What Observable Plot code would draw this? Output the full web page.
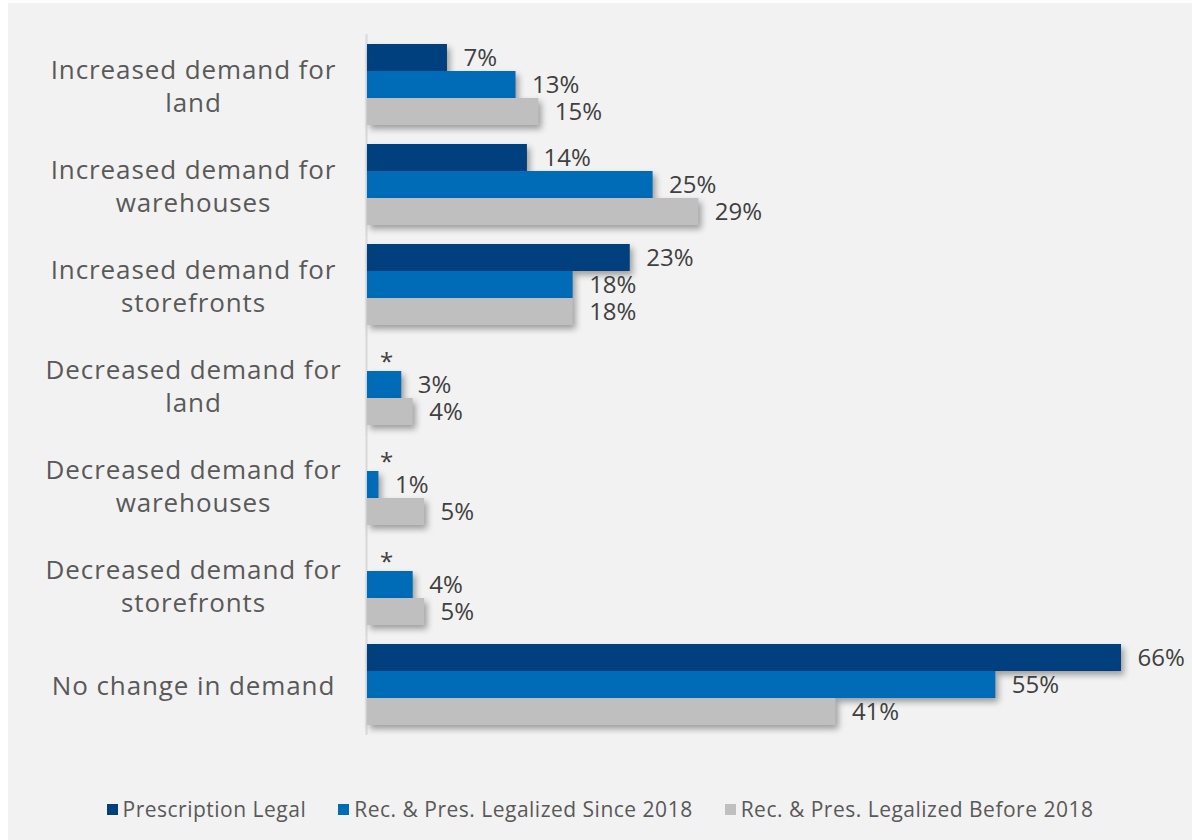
<!DOCTYPE html>
<html>
<head>
<meta charset="utf-8">
<script src="https://cdn.jsdelivr.net/npm/d3@7"></script>
<script src="https://cdn.jsdelivr.net/npm/@observablehq/plot@0.6"></script>
<style>
  html, body { margin: 0; padding: 0; background: #ffffff; }
  #panel { position: absolute; left: 8px; top: 3px; width: 1184px; height: 837px; background: #f2f2f2; font-family: "Open Sans", sans-serif; }
  #legend { display: flex; justify-content: center; gap: 32px; font-size: 21px; letter-spacing: 0.5px; color: #595959; margin-top: 22px; }
  #legend .item { display: flex; align-items: center; }
  #legend .sw { width: 11px; height: 11px; margin-right: 5px; }
  .catlabel { letter-spacing: 0.9px; }
</style>
</head>
<body>
<div id="panel"><div id="chart"></div><div id="legend"></div></div>
<script>
const categories = [
  "Increased demand for land",
  "Increased demand for warehouses",
  "Increased demand for storefronts",
  "Decreased demand for land",
  "Decreased demand for warehouses",
  "Decreased demand for storefronts",
  "No change in demand"
];
const categoryLabels = [
  "Increased demand for\nland",
  "Increased demand for\nwarehouses",
  "Increased demand for\nstorefronts",
  "Decreased demand for\nland",
  "Decreased demand for\nwarehouses",
  "Decreased demand for\nstorefronts",
  "No change in demand"
];
const series = ["Prescription Legal", "Rec. & Pres. Legalized Since 2018", "Rec. & Pres. Legalized Before 2018"];
const colors = ["#00407f", "#006bb6", "#bfbfbf"];
const prescriptionLegal = [7, 14, 23, null, null, null, 66];
const legalizedSince2018 = [13, 25, 18, 3, 1, 4, 55];
const legalizedBefore2018 = [15, 29, 18, 4, 5, 5, 41];

const seriesValues = [prescriptionLegal, legalizedSince2018, legalizedBefore2018];
const rows = [];
categories.forEach((c, i) => {
  series.forEach((s, j) => rows.push({category: c, series: s, value: seriesValues[j][i]}));
});
const present = rows.filter(d => d.value != null);
const missing = rows.filter(d => d.value == null);
const labelOf = new Map(categories.map((c, i) => [c, categoryLabels[i]]));

const plot = Plot.plot({
  width: 1184,
  height: 770,
  marginLeft: 359,
  marginRight: 71,
  marginTop: 41,
  marginBottom: 48,
  style: {background: "transparent", fontFamily: "'Open Sans', sans-serif"},
  x: {domain: [0, 66], axis: null},
  fy: {domain: categories, paddingInner: 0.19, paddingOuter: 0, axis: null},
  y: {domain: series, padding: 0, axis: null},
  color: {domain: series, range: colors},
  marks: [
    Plot.ruleX([0], {stroke: "#d9d9d9", strokeWidth: 2, insetTop: -10, insetBottom: -10, dx: -1}),
    Plot.barX(present, {x: "value", y: "series", fy: "category", fill: "series"}),
    Plot.text(present, {x: "value", y: "series", fy: "category", text: d => d.value + "%", dx: 16, textAnchor: "start", fontSize: 24, fill: "#404040"}),
    Plot.text(missing, {x: 0, y: "series", fy: "category", text: () => "*", dx: 19, dy: 4, textAnchor: "middle", fontSize: 24, fill: "#404040"}),
    Plot.text(categories, {fy: d => d, text: d => labelOf.get(d), frameAnchor: "left", dx: -174, textAnchor: "middle", fontSize: 26, lineHeight: 1.25, fill: "#595959", className: "catlabel"})
  ]
});
d3.select(plot).selectAll("g[aria-label=bar] rect").style("filter", "drop-shadow(3px 4px 3px rgba(0,0,0,0.35))");
d3.select(plot).selectAll("g[aria-label=text]").filter((d, i, nodes) => i === nodes.length - 1).style("letter-spacing", "0.9px");
document.getElementById("chart").appendChild(plot);

const legend = d3.select("#legend");
series.forEach((s, j) => {
  const item = legend.append("div").attr("class", "item");
  item.append("div").attr("class", "sw").style("background", colors[j]);
  item.append("span").text(s);
});
</script>
</body>
</html>
